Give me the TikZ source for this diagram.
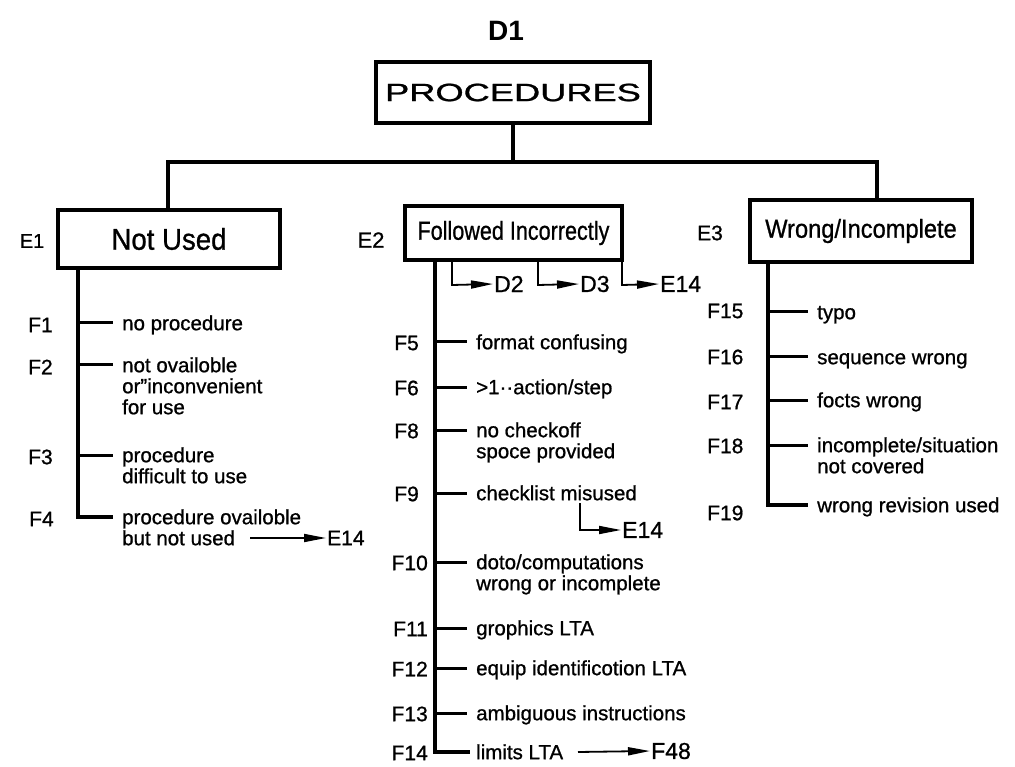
\documentclass[tikz,border=0pt]{standalone}
\usepackage{fontspec}
\setmainfont{Liberation Sans}[UprightFeatures={FakeBold=0.9}]
\usetikzlibrary{arrows.meta,calc}
\newcommand{\mystrutA}{\rule{0pt}{15pt}}
\tikzset{
  box/.style={draw, line width=3.5pt, inner sep=0pt},
  stem/.style={line width=3.8pt},
  brl/.style={line width=3pt},
  txt/.style={anchor=north west, inner xsep=9pt, inner ysep=0pt, align=left, font=\fontsize{20.5}{21}\selectfont},
  flab/.style={font=\fontsize{21}{21}\selectfont, inner sep=0pt},
  elab/.style={inner sep=0pt},
  arr/.style={line width=1.8pt, -{Triangle[length=22pt,width=8pt]}},
  tgt/.style={font=\fontsize{23}{23}\selectfont, anchor=west, inner sep=1pt},
}
\begin{document}
\begin{tikzpicture}[x=1pt,y=-1pt]
\useasboundingbox (0,0) rectangle (1015,767);

% title and root
\node[font=\fontsize{28}{28}\selectfont\bfseries, inner sep=0pt] (d1) at (506,31) {D1};
\node[box, minimum width=274pt, minimum height=61pt] (proc) at (513,92.5)
  {\scalebox{1.45}[1]{\fontsize{25}{25}\selectfont PROCEDURES}};

% level E boxes
\node[box, minimum width=222pt, minimum height=58pt] (e1) at (169,239)
  {\scalebox{0.92}[1]{\fontsize{30}{30}\selectfont Not Used}};
\node[box, minimum width=217pt, minimum height=54pt] (e2) at (513.5,233)
  {\scalebox{0.83}[1]{\fontsize{26}{26}\selectfont Followed Incorrectly}};
\node[box, minimum width=222pt, minimum height=62pt] (e3) at (861,231)
  {\scalebox{0.91}[1]{\fontsize{26}{26}\selectfont Wrong/Incomplete}};

\node[elab, font=\fontsize{20}{20}\selectfont] (le1) at (32,241) {E1};
\node[elab, font=\fontsize{22}{22}\selectfont] (le2) at (371,240) {E2};
\node[elab, font=\fontsize{21}{21}\selectfont] (le3) at (710,233) {E3};

% bus
\coordinate (bl) at (168,162);
\coordinate (br) at (877,162);
\draw[stem] (proc.south) -- (proc.south |- bl);
\draw[stem] (e1.north -| bl) -- (bl) -- (br) -- (e3.north -| br);

% ---------------- E1 branch ----------------
\coordinate (s1) at (78,517);
\node[txt] (t1) at (113,315) {\mystrutA no procedure};
\node[txt] (t2) at (113,357) {\mystrutA not ovailoble\\or''inconvenient\\for use};
\node[txt] (t3) at (113,447) {\mystrutA procedure\\difficult to use};
\node[txt] (t4) at (113,509) {\mystrutA procedure ovailoble\\but not used};
\node[flab, anchor=west] (f1) at (28,325) {F1};
\node[flab, anchor=west] (f2) at (28,367) {F2};
\node[flab, anchor=west] (f3) at (28,457) {F3};
\node[flab, anchor=west] (f4) at (29,519) {F4};
\draw[stem] (e1.south -| s1) -- (s1) -- (s1 -| t4.west);
\foreach \y/\t in {323/t1,365/t2,455/t3}
  \draw[brl] (78,\y) -- (\t.west |- 0,\y);
\coordinate (a4) at (250,538);
\node[tgt, font=\fontsize{21}{21}\selectfont] (x4) at (326,538) {E14};
\draw[arr] (a4) -- (x4.west);

% ---------------- E2 branch ----------------
\coordinate (s2) at (435,752);
\draw[stem] (e2.south -| s2) -- (s2) -- ++(35,0) coordinate (s2e);
\node[txt] (t5) at (467,334) {\mystrutA format confusing};
\node[txt] (t6) at (467,379) {\mystrutA >1··action/step};
\node[txt] (t8) at (467,422) {\mystrutA no checkoff\\spoce provided};
\node[txt] (t9) at (467,485) {\mystrutA checklist misused};
\node[txt] (t10) at (467,554) {\mystrutA doto/computations\\wrong or incomplete};
\node[txt] (t11) at (467,620) {\mystrutA grophics LTA};
\node[txt] (t12) at (467,660) {\mystrutA equip identificotion LTA};
\node[txt] (t13) at (467,705) {\mystrutA ambiguous instructions};
\node[txt] (t14) at (467,744) {\mystrutA limits LTA};
\foreach \y/\t in {342/t5,387/t6,430/t8,493/t9,562/t10,628/t11,668/t12,713/t13}
  \draw[brl] (435,\y) -- (\t.west |- 0,\y);
\node[flab, anchor=east] (f5) at (419,343) {F5};
\node[flab, anchor=east] (f6) at (419,388) {F6};
\node[flab, anchor=east] (f8) at (419,431) {F8};
\node[flab, anchor=east] (f9) at (419,494) {F9};
\node[flab, anchor=east] (f10) at (428,563) {F10};
\node[flab, anchor=east] (f11) at (428,629) {F11};
\node[flab, anchor=east] (f12) at (428,669) {F12};
\node[flab, anchor=east] (f13) at (428,714) {F13};
\node[flab, anchor=east] (f14) at (428,753) {F14};

% D2 / D3 / E14 drops
\coordinate (c2) at (452,285);
\coordinate (c3) at (538,285);
\coordinate (c4) at (622,285);
\node[tgt] (d2) at (493,284) {D2};
\node[tgt] (d3) at (579,284) {D3};
\node[tgt] (x2) at (659,284) {E14};
\draw[arr] (e2.south -| c2) -- (c2) -- (d2.west);
\draw[arr] (e2.south -| c3) -- (c3) -- (d3.west);
\draw[arr] (e2.south -| c4) -- (c4) -- (x2.west);

% F9 -> E14
\coordinate (m9) at (580,503);
\coordinate (c9) at (580,530);
\node[tgt] (x9) at (621,530) {E14};
\draw[arr] (m9) -- (c9) -- (x9.west);

% F14 -> F48
\coordinate (a14) at (578,752);
\node[tgt] (f48) at (650,751) {F48};
\draw[arr] (a14) -- (f48.west);

% ---------------- E3 branch ----------------
\coordinate (s3) at (768,505);
\node[txt] (t15) at (808,304) {\mystrutA typo};
\node[txt] (t16) at (808,349) {\mystrutA sequence wrong};
\node[txt] (t17) at (808,392) {\mystrutA focts wrong};
\node[txt] (t18) at (808,437) {\mystrutA incomplete/situation\\not covered};
\node[txt] (t19) at (808,497) {\mystrutA wrong revision used};
\draw[stem] (e3.south -| s3) -- (s3) -- (s3 -| t19.west);
\foreach \y/\t in {312/t15,357/t16,400/t17,445/t18}
  \draw[brl] (768,\y) -- (\t.west |- 0,\y);
\node[flab, anchor=west] (f15) at (707,311) {F15};
\node[flab, anchor=west] (f16) at (707,357) {F16};
\node[flab, anchor=west] (f17) at (707,402) {F17};
\node[flab, anchor=west] (f18) at (707,446) {F18};
\node[flab, anchor=west] (f19) at (707,513) {F19};
\end{tikzpicture}
\end{document}
